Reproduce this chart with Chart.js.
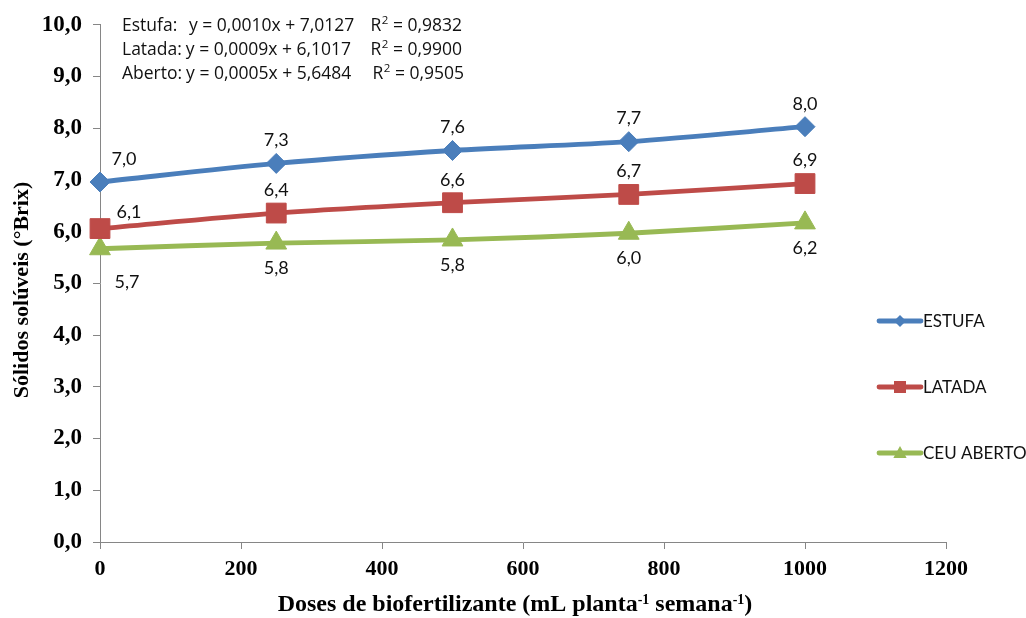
<!DOCTYPE html>
<html>
<head>
<meta charset="utf-8">
<script src="https://cdn.jsdelivr.net/npm/chart.js@4.4.1/dist/chart.umd.min.js"></script>
<style>
  html, body { margin: 0; padding: 0; background: #ffffff; }
  #wrap { width: 1026px; height: 618px; }
</style>
</head>
<body>
<div id="wrap"><canvas id="chart" width="1026" height="618"></canvas></div>
<script>
// Doses of biofertilizer (mL per plant per week)
const doses = [0, 250, 500, 750, 1000];

// Soluble solids (°Brix) for each growing system
const seriesNames = ['ESTUFA', 'LATADA', 'CEU ABERTO'];
const estufa = [6.96, 7.32, 7.57, 7.74, 8.03];
const latada = [6.06, 6.36, 6.56, 6.72, 6.93];
const ceuAberto = [5.67, 5.78, 5.84, 5.97, 6.17];

// Axis ticks
const yTicks = [0, 1, 2, 3, 4, 5, 6, 7, 8, 9, 10];
const xTicks = [0, 200, 400, 600, 800, 1000, 1200];

// Regression equations shown at the top of the plot: name, fit, R²
const eqNames = ['Estufa:', 'Latada:', 'Aberto:'];
const eqFits = ['y = 0,0010x + 7,0127', 'y = 0,0009x + 6,1017', 'y = 0,0005x + 5,6484'];
const eqR2 = ['0,9832', '0,9900', '0,9505'];

const yTitle = 'Sólidos solúveis (°Brix)';
const xTitleParts = [
  { t: 'Doses de biofertilizante (mL planta', sup: false },
  { t: '-1', sup: true },
  { t: ' semana', sup: false },
  { t: '-1', sup: true },
  { t: ')', sup: false }
];

const fmt = v => v.toFixed(1).replace('.', ',');
const serif = '"Liberation Serif", "Times New Roman", serif';
const sans = 'Lato, "Liberation Sans", sans-serif';
const eqSans = '"Open Sans", "Liberation Sans", sans-serif';
const axisGrey = '#868686';
const textDark = '#111111';

const styles = [
  { color: '#4A7EBB', pointStyle: 'rectRot', radius: 10, labelDy: -23, firstDx: 24, firstDy: -23 },
  { color: '#BE4B48', pointStyle: 'rect', radius: 14, labelDy: -23, firstDx: 29, firstDy: -16 },
  { color: '#98B954', pointStyle: 'triangle', radius: 12, labelDy: 25, firstDx: 27, firstDy: 33 }
];

const values = [estufa, latada, ceuAberto];

const datasets = values.map((vals, i) => ({
  label: seriesNames[i],
  data: doses.map((d, j) => ({ x: d, y: vals[j] })),
  borderColor: styles[i].color,
  backgroundColor: styles[i].color,
  borderWidth: 4.8,
  pointStyle: styles[i].pointStyle,
  pointRadius: styles[i].radius,
  pointBackgroundColor: styles[i].color,
  pointBorderColor: styles[i].color,
  pointBorderWidth: 1,
  tension: 0.3,
  clip: false
}));

// Value labels next to every marker
const valueLabels = {
  id: 'valueLabels',
  afterDatasetsDraw(chart) {
    const ctx = chart.ctx;
    ctx.save();
    ctx.font = '18px ' + sans;
    ctx.fillStyle = textDark;
    ctx.textAlign = 'center';
    ctx.textBaseline = 'middle';
    chart.data.datasets.forEach((ds, i) => {
      const meta = chart.getDatasetMeta(i);
      const st = styles[i];
      meta.data.forEach((pt, j) => {
        const dx = j === 0 ? st.firstDx : 0;
        const dy = j === 0 ? st.firstDy : st.labelDy;
        ctx.fillText(fmt(values[i][j]), pt.x + dx, pt.y + dy);
      });
    });
    ctx.restore();
  }
};

function drawMarker(ctx, style, x, y, r) {
  ctx.beginPath();
  if (style === 'rectRot') {
    ctx.moveTo(x - r, y); ctx.lineTo(x, y - r); ctx.lineTo(x + r, y); ctx.lineTo(x, y + r);
  } else if (style === 'rect') {
    ctx.rect(x - r, y - r, 2 * r, 2 * r);
  } else {
    ctx.moveTo(x, y - r); ctx.lineTo(x + r * 0.95, y + r * 0.7); ctx.lineTo(x - r * 0.95, y + r * 0.7);
  }
  ctx.closePath();
  ctx.fill();
}

// Legend at the right side: line with marker, then the series name
const sideLegend = {
  id: 'sideLegend',
  afterDraw(chart) {
    const ctx = chart.ctx;
    const rows = [321, 387, 453];
    const sizes = [6, 6, 7];
    ctx.save();
    ctx.font = '17px ' + sans;
    ctx.textBaseline = 'middle';
    ctx.textAlign = 'left';
    chart.data.datasets.forEach((ds, i) => {
      const y = rows[i];
      ctx.strokeStyle = styles[i].color;
      ctx.fillStyle = styles[i].color;
      ctx.lineWidth = 4.8;
      ctx.lineCap = 'round';
      ctx.beginPath();
      ctx.moveTo(879, y); ctx.lineTo(921, y);
      ctx.stroke();
      drawMarker(ctx, styles[i].pointStyle, 900, y, sizes[i]);
      ctx.fillStyle = textDark;
      ctx.fillText(ds.label, 923, y + 1);
    });
    ctx.restore();
  }
};

// Regression equations, axis titles (x title carries superscripts)
const annotations = {
  id: 'annotations',
  afterDraw(chart) {
    const ctx = chart.ctx;
    ctx.save();

    // equations: name at the left, fit after it, R² group ending at a fixed right edge
    ctx.fillStyle = textDark;
    ctx.textBaseline = 'middle';
    ctx.textAlign = 'left';
    const rows = [26, 50, 74];
    const fitX = [189, 185, 182];
    const rEnd = [462, 462, 464];
    const big = '17.5px ' + eqSans;
    const small = '11.5px ' + eqSans;
    eqNames.forEach((name, i) => {
      const y = rows[i];
      ctx.font = big;
      ctx.fillText(name, 122, y);
      const fx = Math.max(fitX[i], 122 + ctx.measureText(name).width + 4);
      ctx.fillText(eqFits[i], fx, y);
      const tail = ' = ' + eqR2[i];
      const wR = ctx.measureText('R').width + 0.5;
      const wTail = ctx.measureText(tail).width;
      ctx.font = small;
      const w2 = ctx.measureText('2').width;
      let x = rEnd[i] - (wR + w2 + wTail);
      ctx.font = big;
      ctx.fillText('R', x, y);
      x += wR;
      ctx.font = small;
      ctx.fillText('2', x, y - 5);
      x += w2;
      ctx.font = big;
      ctx.fillText(tail, x, y);
    });

    // y title, rotated
    ctx.save();
    ctx.translate(22, 290);
    ctx.rotate(-Math.PI / 2);
    ctx.font = 'bold 22px ' + serif;
    ctx.fillStyle = '#000000';
    ctx.textAlign = 'center';
    ctx.textBaseline = 'middle';
    ctx.fillText(yTitle, 0, 0);
    ctx.restore();

    // x title with superscripts
    const mainFont = 'bold 24px ' + serif;
    const supFont = 'bold 14px ' + serif;
    let total = 0;
    xTitleParts.forEach(p => {
      ctx.font = p.sup ? supFont : mainFont;
      total += ctx.measureText(p.t).width;
    });
    let x = 515 - total / 2;
    ctx.fillStyle = '#000000';
    ctx.textBaseline = 'alphabetic';
    ctx.textAlign = 'left';
    xTitleParts.forEach(p => {
      ctx.font = p.sup ? supFont : mainFont;
      ctx.fillText(p.t, x, p.sup ? 604 : 611);
      x += ctx.measureText(p.t).width;
    });
    ctx.restore();
  }
};

new Chart(document.getElementById('chart'), {
  type: 'line',
  data: { datasets },
  options: {
    responsive: false,
    animation: false,
    layout: { padding: { top: 21.5, right: 80, left: 0, bottom: 0 } },
    plugins: {
      legend: { display: false },
      tooltip: { enabled: false }
    },
    scales: {
      x: {
        type: 'linear',
        min: 0,
        max: 1200,
        afterBuildTicks: scale => { scale.ticks = xTicks.map(v => ({ value: v })); },
        afterFit: scale => { scale.height = 76; },
        border: { color: axisGrey, width: 1 },
        grid: { drawOnChartArea: false, drawTicks: true, tickLength: 7, color: axisGrey },
        ticks: {
          color: '#000000',
          padding: 7,
          maxRotation: 0,
          font: { family: serif, size: 22, weight: 'bold' },
          callback: v => String(v)
        }
      },
      y: {
        min: 0,
        max: 10,
        afterBuildTicks: scale => { scale.ticks = yTicks.map(v => ({ value: v })); },
        afterFit: scale => { scale.width = 100; },
        border: { color: axisGrey, width: 1 },
        grid: { drawOnChartArea: false, drawTicks: true, tickLength: 7, color: axisGrey },
        ticks: {
          color: '#000000',
          padding: 11,
          font: { family: serif, size: 23, weight: 'bold' },
          callback: v => fmt(v)
        }
      }
    }
  },
  plugins: [valueLabels, sideLegend, annotations]
});
</script>
</body>
</html>
